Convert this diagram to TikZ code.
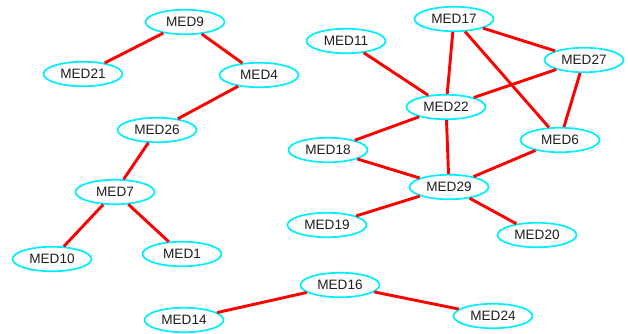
\documentclass[tikz,border=0pt]{standalone}
\usepackage{fontspec}
\setmainfont{Liberation Sans}
\usetikzlibrary{shapes.geometric}

\definecolor{nodecyan}{RGB}{0,238,255}
\definecolor{edgered}{RGB}{255,0,0}
\definecolor{labelgray}{RGB}{30,30,30}

\begin{document}
\begin{tikzpicture}[x=1pt, y=-1pt,
  med/.style={ellipse, draw=nodecyan, line width=1.7pt, minimum width=79pt,
    minimum height=24.5pt, inner sep=0pt, text=labelgray,
    font=\fontsize{13.6}{15}\selectfont},
  link/.style={edgered, line width=2.9pt}]
\useasboundingbox (0,0) rectangle (628,333);

% Left tree
\node[med] (m9)  at (185,22)  {MED9};
\node[med] (m21) at (83,74)   {MED21};
\node[med] (m4)  at (259,75)  {MED4};
\node[med] (m26) at (157,130) {MED26};
\node[med] (m7)  at (115,192) {MED7};
\node[med] (m10) at (52,259)  {MED10};
\node[med] (m1)  at (182,254) {MED1};

% Right cluster
\node[med] (m17) at (454,19)  {MED17};
\node[med] (m11) at (346,41)  {MED11};
\node[med] (m27) at (584,60)  {MED27};
\node[med] (m22) at (446,107) {MED22};
\node[med] (m18) at (328,150) {MED18};
\node[med] (m6)  at (560,140) {MED6};
\node[med] (m29) at (449,187) {MED29};
\node[med] (m19) at (327,225) {MED19};
\node[med] (m20) at (537,235) {MED20};

% Bottom pair
\node[med] (m16) at (340,285) {MED16};
\node[med] (m14) at (184,320) {MED14};
\node[med] (m24) at (493,316) {MED24};

% Links
\draw[link] (m9) -- (m21);
\draw[link] (m9) -- (m4);
\draw[link] (m4) -- (m26);
\draw[link] (m26) -- (m7);
\draw[link] (m7) -- (m10);
\draw[link] (m7) -- (m1);

\draw[link] (m11) -- (m22);
\draw[link] (m17) -- (m22);
\draw[link] (m17) -- (m27);
\draw[link] (m17) -- (m6);
\draw[link] (m27) -- (m22);
\draw[link] (m27) -- (m6);
\draw[link] (m22) -- (m18);
\draw[link] (m22) -- (m29);
\draw[link] (m18) -- (m29);
\draw[link] (m6) -- (m29);
\draw[link] (m29) -- (m19);
\draw[link] (m29) -- (m20);

\draw[link] (m16) -- (m14);
\draw[link] (m16) -- (m24);

\end{tikzpicture}
\end{document}
